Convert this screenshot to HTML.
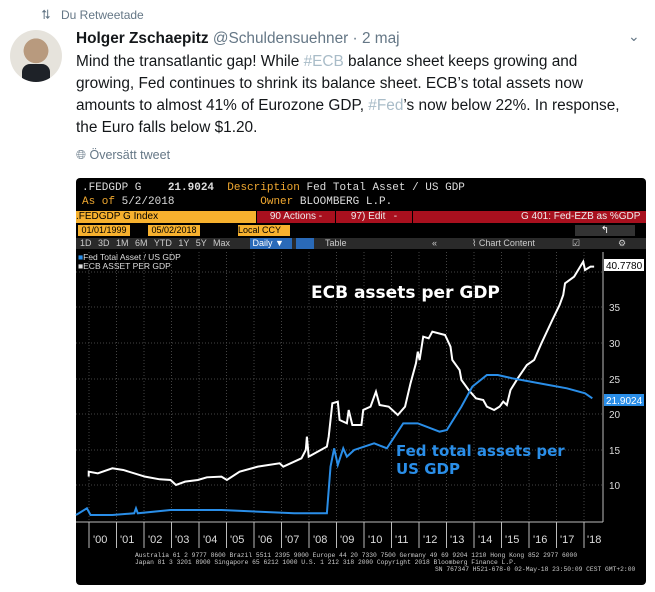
<!DOCTYPE html>
<html><head><meta charset="utf-8"><style>
body{margin:0;width:655px;height:592px;background:#fff;font-family:"Liberation Sans",sans-serif;position:relative;overflow:hidden}
.a{position:absolute;white-space:nowrap}
.m{font-family:"Liberation Mono",monospace}
</style></head><body>
<div class="a" style="left:40px;top:7px;font-size:13px;color:#657786">⮁</div>
<div class="a" style="left:61px;top:8px;font-size:12px;color:#657786">Du Retweetade</div>
<div class="a" style="left:10px;top:30px;width:52px;height:52px;border-radius:50%;background:radial-gradient(circle at 50% 40%,#b89a7e 0 30%,#e6e3dc 31%);overflow:hidden"><div style="position:absolute;left:12px;top:34px;width:28px;height:22px;background:#1e2228;border-radius:8px 8px 0 0"></div></div>
<div class="a" style="left:76px;top:30px;font-size:15.4px;color:#14171a"><b>Holger Zschaepitz</b> <span style="color:#657786">@Schuldensuehner · 2 maj</span></div>
<div class="a" style="left:628px;top:28px;font-size:14px;color:#657786">⌄</div>
<div class="a" style="left:76px;top:51px;font-size:15.4px;line-height:22px;color:#14171a">Mind the transatlantic gap! While <span style="color:#a9bcc8">#ECB</span> balance sheet keeps growing and<br>growing, Fed continues to shrink its balance sheet. ECB’s total assets now<br>amounts to almost 41% of Eurozone GDP, <span style="color:#a9bcc8">#Fed</span>’s now below 22%. In response,<br>the Euro falls below $1.20.</div>
<div class="a" style="left:76px;top:148px;font-size:12.5px;color:#657786">🌐︎ Översätt tweet</div>

<div class="a" style="left:76px;top:178px;width:570px;height:407px;background:#000;border-radius:4px"></div>
<div class="a m" style="left:82px;top:182px;font-size:11px;color:#ddd">.FEDGDP G &nbsp; &nbsp;<b>21.9024</b> &nbsp;<span style="color:#f0a830">Description</span> Fed Total Asset / US GDP</div>
<div class="a m" style="left:82px;top:196px;font-size:11px;color:#f0a830">As of <span style="color:#ddd">5/2/2018</span> &nbsp; &nbsp; &nbsp; &nbsp; &nbsp; &nbsp; Owner <span style="color:#ddd">BLOOMBERG L.P.</span></div>
<div class="a" style="left:76px;top:211px;width:180px;height:12px;background:#f7b12e;font-size:10px;color:#000;line-height:12px">.FEDGDP G Index</div>
<div class="a" style="left:257px;top:211px;width:78px;height:12px;background:#a8101e;font-size:10px;color:#eee;line-height:12px;text-align:center">90 Actions -</div>
<div class="a" style="left:336px;top:211px;width:76px;height:12px;background:#a8101e;font-size:10px;color:#eee;line-height:12px;text-align:center">97) Edit &nbsp; -</div>
<div class="a" style="left:413px;top:211px;width:233px;height:12px;background:#a8101e;font-size:10px;color:#eee;line-height:12px;text-align:right">G 401: Fed-EZB as %GDP&nbsp;&nbsp;</div>
<div class="a" style="left:78px;top:225px;width:52px;height:11px;background:#f7b12e;font-size:9px;line-height:11px;text-align:center">01/01/1999</div>
<div class="a" style="left:148px;top:225px;width:52px;height:11px;background:#f7b12e;font-size:9px;line-height:11px;text-align:center">05/02/2018</div>
<div class="a" style="left:238px;top:225px;width:52px;height:11px;background:#f7b12e;font-size:9px;line-height:11px">Local CCY</div>
<div class="a" style="left:575px;top:225px;width:60px;height:11px;background:#333;color:#fff;font-size:10px;line-height:11px;text-align:center">↰</div>
<div class="a" style="left:76px;top:238px;width:570px;height:11px;background:#2a2a2a"></div>
<div class="a" style="left:80px;top:238px;font-size:9px;color:#ccc;line-height:11px;word-spacing:4px">1D 3D 1M 6M YTD 1Y 5Y Max</div>
<div class="a" style="left:250px;top:238px;width:42px;height:11px;background:#2a6ab8;color:#fff;font-size:9px;line-height:11px">&nbsp;Daily ▼</div>
<div class="a" style="left:296px;top:238px;width:18px;height:11px;background:#2a6ab8"></div>
<div class="a" style="left:325px;top:238px;font-size:9px;color:#ccc;line-height:11px">Table</div>
<div class="a" style="left:432px;top:238px;font-size:9px;color:#ccc;line-height:11px">«</div>
<div class="a" style="left:472px;top:238px;font-size:9px;color:#ccc;line-height:11px">⌇ Chart Content</div>
<div class="a" style="left:572px;top:238px;font-size:9px;color:#ccc;line-height:11px">☑</div>
<div class="a" style="left:618px;top:238px;font-size:9px;color:#ccc;line-height:11px">⚙</div>
<div class="a" style="left:78px;top:253px;font-size:8.5px;color:#ddd;line-height:9px"><span style="color:#2a8ee8">■</span>Fed Total Asset / US GDP<br>■ECB ASSET PER GDP</div>

<svg class="a" style="left:0;top:0" width="655" height="592">
<g stroke="#444" stroke-dasharray="1,2" stroke-width="1">
<line x1="89" y1="252" x2="89" y2="522"/><line x1="116.5" y1="252" x2="116.5" y2="522"/><line x1="144" y1="252" x2="144" y2="522"/><line x1="171.5" y1="252" x2="171.5" y2="522"/><line x1="199" y1="252" x2="199" y2="522"/><line x1="226.5" y1="252" x2="226.5" y2="522"/><line x1="254" y1="252" x2="254" y2="522"/><line x1="281.5" y1="252" x2="281.5" y2="522"/><line x1="309" y1="252" x2="309" y2="522"/><line x1="336.5" y1="252" x2="336.5" y2="522"/><line x1="364" y1="252" x2="364" y2="522"/><line x1="391.5" y1="252" x2="391.5" y2="522"/><line x1="419" y1="252" x2="419" y2="522"/><line x1="446.5" y1="252" x2="446.5" y2="522"/><line x1="474" y1="252" x2="474" y2="522"/><line x1="501.5" y1="252" x2="501.5" y2="522"/><line x1="529" y1="252" x2="529" y2="522"/><line x1="556.5" y1="252" x2="556.5" y2="522"/><line x1="584" y1="252" x2="584" y2="522"/>
<line x1="76" y1="272" x2="603" y2="272"/><line x1="76" y1="307" x2="603" y2="307"/><line x1="76" y1="343" x2="603" y2="343"/><line x1="76" y1="379" x2="603" y2="379"/><line x1="76" y1="414" x2="603" y2="414"/><line x1="76" y1="450" x2="603" y2="450"/><line x1="76" y1="485" x2="603" y2="485"/>
</g>
<line x1="603" y1="252" x2="603" y2="522" stroke="#bbb"/>
<line x1="76" y1="522" x2="603" y2="522" stroke="#bbb"/>
<g stroke="#bbb"><line x1="89" y1="522" x2="89" y2="548"/><line x1="116.5" y1="522" x2="116.5" y2="548"/><line x1="144" y1="522" x2="144" y2="548"/><line x1="171.5" y1="522" x2="171.5" y2="548"/><line x1="199" y1="522" x2="199" y2="548"/><line x1="226.5" y1="522" x2="226.5" y2="548"/><line x1="254" y1="522" x2="254" y2="548"/><line x1="281.5" y1="522" x2="281.5" y2="548"/><line x1="309" y1="522" x2="309" y2="548"/><line x1="336.5" y1="522" x2="336.5" y2="548"/><line x1="364" y1="522" x2="364" y2="548"/><line x1="391.5" y1="522" x2="391.5" y2="548"/><line x1="419" y1="522" x2="419" y2="548"/><line x1="446.5" y1="522" x2="446.5" y2="548"/><line x1="474" y1="522" x2="474" y2="548"/><line x1="501.5" y1="522" x2="501.5" y2="548"/><line x1="529" y1="522" x2="529" y2="548"/><line x1="556.5" y1="522" x2="556.5" y2="548"/><line x1="584" y1="522" x2="584" y2="548"/></g>
<g fill="#ddd" font-size="11" font-family="Liberation Sans">
<text x="93" y="543">'00</text><text x="120" y="543">'01</text><text x="148" y="543">'02</text><text x="175" y="543">'03</text><text x="203" y="543">'04</text><text x="230" y="543">'05</text><text x="258" y="543">'06</text><text x="285" y="543">'07</text><text x="313" y="543">'08</text><text x="340" y="543">'09</text><text x="368" y="543">'10</text><text x="395" y="543">'11</text><text x="423" y="543">'12</text><text x="450" y="543">'13</text><text x="478" y="543">'14</text><text x="505" y="543">'15</text><text x="533" y="543">'16</text><text x="560" y="543">'17</text><text x="587" y="543">'18</text>
</g>
<g fill="#ddd" font-size="10" font-family="Liberation Sans">
<text x="609" y="311">35</text><text x="609" y="347">30</text><text x="609" y="383">25</text><text x="609" y="418">20</text><text x="609" y="454">15</text><text x="609" y="489">10</text>
</g>
<g transform="translate(76,250) scale(0.3636,0.3333)" fill="none">
<polyline vector-effect="non-scaling-stroke" stroke="#fff" stroke-width="2" points="35,680 35,665 60,670 100,655 130,660 190,680 230,688 260,690 275,705 300,695 335,690 360,682 400,680 415,690 450,665 500,650 560,640 570,650 620,625 632,600 635,560 640,620 690,590 695,560 705,460 720,455 725,510 745,520 750,480 760,525 785,525 790,480 810,470 825,425 835,465 860,470 885,495 905,470 920,400 935,340 940,305 945,330 955,260 970,265 980,245 1015,255 1030,290 1035,330 1055,360 1060,390 1080,420 1100,445 1120,450 1130,470 1150,480 1165,470 1175,455 1185,465 1195,420 1215,385 1240,345 1260,330 1280,280 1310,210 1330,165 1340,135 1345,100 1370,80 1395,35 1400,60 1415,50 1425,50"/>
<polyline vector-effect="non-scaling-stroke" stroke="#2a8ee8" stroke-width="2" points="0,795 30,775 40,795 100,795 160,790 165,775 170,790 260,780 400,780 600,790 690,790 700,650 710,595 720,645 735,595 745,620 765,600 820,580 855,595 900,520 920,520 940,520 1000,545 1020,540 1060,470 1090,410 1130,375 1160,375 1200,385 1250,395 1300,405 1350,415 1400,430 1420,445"/>
</g>
<rect x="604" y="259" width="40" height="12" fill="#fff"/>
<text x="606" y="269" font-size="10" font-family="Liberation Sans" fill="#000">40.7780</text>
<rect x="604" y="394" width="40" height="12" fill="#2a8ee8"/>
<text x="606" y="404" font-size="10" font-family="Liberation Sans" fill="#fff">21.9024</text>
<text x="311" y="298" font-size="17" font-weight="bold" font-family="DejaVu Sans" fill="#fff">ECB assets per GDP</text>
<text x="396" y="456" font-size="15" font-weight="bold" font-family="DejaVu Sans" fill="#2a8ee8">Fed total assets per</text>
<text x="396" y="474" font-size="15" font-weight="bold" font-family="DejaVu Sans" fill="#2a8ee8">US GDP</text>
<g fill="#ccc" font-size="6.3" font-family="Liberation Mono">
<text x="135" y="557">Australia 61 2 9777 8600 Brazil 5511 2395 9000 Europe 44 20 7330 7500 Germany 49 69 9204 1210 Hong Kong 852 2977 6000</text>
<text x="135" y="564">Japan 81 3 3201 8900      Singapore 65 6212 1000      U.S. 1 212 318 2000       Copyright 2018 Bloomberg Finance L.P.</text>
<text x="435" y="571">SN 767347 H521-678-0 02-May-18 23:50:09 CEST GMT+2:00</text>
</g>
</svg>
</body></html>
